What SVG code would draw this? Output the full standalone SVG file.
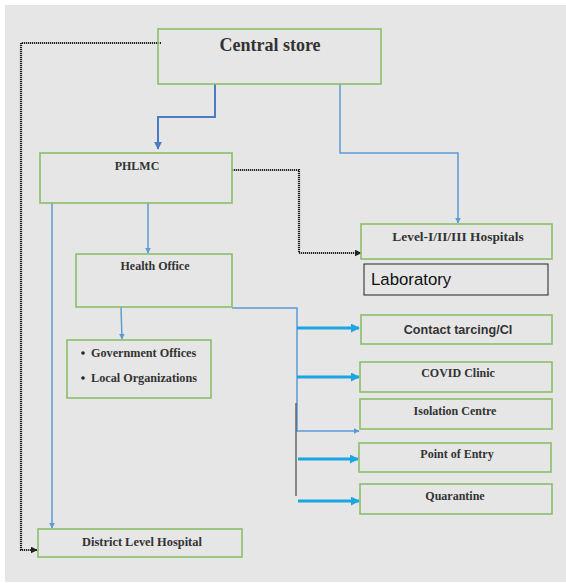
<svg xmlns="http://www.w3.org/2000/svg" width="566" height="583" viewBox="0 0 566 583">
<defs>
<style>
.box{fill:none;stroke:#8dbf6b;stroke-width:1.6}
.ser{font-family:"Liberation Serif","Times New Roman",serif;font-weight:bold;fill:#333;text-anchor:middle}
.san{font-family:"Liberation Sans",Arial,sans-serif;font-weight:bold;fill:#333;text-anchor:middle}
.blue{fill:none;stroke:#5b9bd5;stroke-width:1.5}
.blue2{fill:none;stroke:#4a7cc6;stroke-width:2}
.cyan{fill:none;stroke:#1ba6e2;stroke-width:2.8}
.dot{fill:none;stroke:#222;stroke-width:2.2;stroke-dasharray:1.2 0.8}
</style>
<marker id="ab" viewBox="0 0 10 10" refX="9" refY="5" markerWidth="6" markerHeight="6" markerUnits="userSpaceOnUse" orient="auto"><path d="M0,0 L10,5 L0,10 Z" fill="#5b9bd5"/></marker>
<marker id="ab2" viewBox="0 0 10 10" refX="9" refY="5" markerWidth="8" markerHeight="8" markerUnits="userSpaceOnUse" orient="auto"><path d="M0,0 L10,5 L0,10 Z" fill="#4a7cc6"/></marker>
<marker id="ac" viewBox="0 0 10 10" refX="9" refY="5" markerWidth="9" markerHeight="9" markerUnits="userSpaceOnUse" orient="auto"><path d="M0,0 L10,5 L0,10 Z" fill="#1ba6e2"/></marker>
<marker id="ak" viewBox="0 0 10 10" refX="9" refY="5" markerWidth="7" markerHeight="7" markerUnits="userSpaceOnUse" orient="auto"><path d="M0,0 L10,5 L0,10 Z" fill="#222"/></marker>
</defs>
<rect x="0" y="0" width="566" height="583" fill="#ffffff"/>
<rect x="5" y="5" width="561" height="577" fill="#e6e6e6"/>

<g id="connectors">
<path class="dot" d="M161,43 H21 V550 H37" marker-end="url(#ak)"/>
<path class="dot" d="M232,170 H299 V253 H361" marker-end="url(#ak)"/>
<path class="blue2" d="M215,84 V117 H158 V149" marker-end="url(#ab2)"/>
<path class="blue" d="M340,84 V153 H458 V223" marker-end="url(#ab)"/>
<path class="blue" d="M148,203 V253" marker-end="url(#ab)"/>
<path class="blue" d="M52,203 V528" marker-end="url(#ab)"/>
<path class="blue" d="M121,307 L122,339" marker-end="url(#ab)"/>
<path class="blue" d="M232,308 H297 V431 H359" marker-end="url(#ab)"/>
<path fill="none" stroke="#555" stroke-width="1.3" d="M296,403 V496"/>
<path class="cyan" d="M297,328 H359" marker-end="url(#ac)"/>
<path class="cyan" d="M297,377 H359" marker-end="url(#ac)"/>
<path class="cyan" d="M298,459 H358" marker-end="url(#ac)"/>
<path class="cyan" d="M298,501 H359" marker-end="url(#ac)"/>
</g>

<g id="central-store">
<rect class="box" x="158" y="29" width="223" height="55"/>
<text class="ser" x="270" y="51" font-size="18">Central store</text>
</g>
<g id="phlmc">
<rect class="box" x="40" y="153" width="192" height="50"/>
<text class="ser" x="137" y="170" font-size="12">PHLMC</text>
</g>
<g id="level-hospitals">
<rect class="box" x="361" y="224" width="191" height="35"/>
<text class="ser" x="458" y="241" font-size="13.4">Level-I/II/III Hospitals</text>
</g>
<g id="laboratory">
<rect x="364" y="264" width="184" height="31" fill="none" stroke="#222" stroke-width="1"/>
<text x="371" y="285" font-family="'Liberation Sans',Arial,sans-serif" font-size="16.8" fill="#111">Laboratory</text>
</g>
<g id="health-office">
<rect class="box" x="76" y="254" width="156" height="53"/>
<text class="ser" x="155" y="270" font-size="12">Health Office</text>
</g>
<g id="gov-local">
<rect class="box" x="67" y="340" width="144" height="58"/>
<circle cx="83" cy="353" r="1.8" fill="#222"/>
<circle cx="83" cy="378" r="1.8" fill="#222"/>
<text class="ser" x="91" y="357" font-size="12.2" style="text-anchor:start">Government Offices</text>
<text class="ser" x="91" y="382" font-size="12.2" style="text-anchor:start">Local Organizations</text>
</g>
<g id="contact-tracing">
<rect class="box" x="361" y="315" width="191" height="29"/>
<text class="san" x="458" y="334" font-size="12.6">Contact  tarcing/CI</text>
</g>
<g id="covid-clinic">
<rect class="box" x="360" y="362" width="192" height="30"/>
<text class="ser" x="458" y="377" font-size="12">COVID Clinic</text>
</g>
<g id="isolation-centre">
<rect class="box" x="360" y="399" width="192" height="30"/>
<text class="ser" x="455" y="415" font-size="12">Isolation Centre</text>
</g>
<g id="point-of-entry">
<rect class="box" x="359" y="443" width="192" height="29"/>
<text class="ser" x="457" y="458" font-size="12">Point of Entry</text>
</g>
<g id="quarantine">
<rect class="box" x="360" y="484" width="192" height="30"/>
<text class="ser" x="455" y="500" font-size="12">Quarantine</text>
</g>
<g id="district-hospital">
<rect class="box" x="38" y="529" width="204" height="28"/>
<text class="ser" x="142" y="546" font-size="12.4">District Level Hospital</text>
</g>
</svg>
